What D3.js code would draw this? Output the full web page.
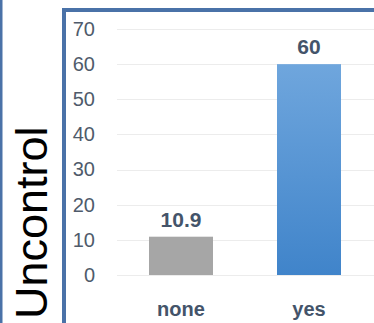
<!DOCTYPE html>
<html><head><meta charset="utf-8">
<script src="https://cdn.jsdelivr.net/npm/d3@7"></script>
<style>html,body{margin:0;padding:0;background:#fff;overflow:hidden}</style>
</head><body>
<script>
const categories = ["none", "yes"];
const values = [10.9, 60];
const valueLabels = ["10.9", "60"];
const yTicks = [0, 10, 20, 30, 40, 50, 60, 70];
const sideTitle = "Uncontrol";

const W = 374, H = 323;
const svg = d3.select("body").append("svg").attr("width", W).attr("height", H);

const defs = svg.append("defs");
const grad = defs.append("linearGradient").attr("id", "blueGrad").attr("x1", 0).attr("y1", 0).attr("x2", 0).attr("y2", 1);
grad.append("stop").attr("offset", "0%").attr("stop-color", "#6fa6dd");
grad.append("stop").attr("offset", "100%").attr("stop-color", "#4084ca");

// left edge line from previous panel
svg.append("rect").attr("x", 0).attr("y", 0).attr("width", 2.5).attr("height", H).attr("fill", "#4a72a8");

// side title
svg.append("text")
  .attr("transform", "translate(47,319) rotate(-90)")
  .attr("font-family", "Liberation Sans, Arial, sans-serif")
  .attr("font-size", 45)
  .attr("fill", "#000")
  .text(sideTitle);

// panel border
svg.append("rect").attr("x", 64).attr("y", 10).attr("width", 340).attr("height", 340)
  .attr("fill", "none").attr("stroke", "#4a72a8").attr("stroke-width", 4);

const y = d3.scaleLinear().domain([0, 70]).range([275, 29]);
const x = d3.scaleBand().domain(categories).range([117, 373]).paddingInner(0.5).paddingOuter(0.25);

// gridlines
svg.append("g").selectAll("line").data(yTicks).join("line")
  .attr("x1", 117).attr("x2", W).attr("y1", d => Math.round(y(d)) + 0.5).attr("y2", d => Math.round(y(d)) + 0.5)
  .attr("stroke", "#ececec").attr("stroke-width", 1);

// y axis labels
const yAxis = d3.axisLeft(y).tickValues(yTicks).tickSize(0).tickPadding(0);
const gy = svg.append("g").attr("transform", "translate(95,0)").call(yAxis);
gy.select(".domain").remove();
gy.selectAll("text")
  .attr("font-family", "Liberation Sans, Arial, sans-serif")
  .attr("font-size", 20)
  .attr("fill", "#4f5b6b");

// bars
const colors = ["#a6a6a6", "url(#blueGrad)"];
svg.append("g").selectAll("rect").data(values).join("rect")
  .attr("x", (d, i) => x(categories[i]))
  .attr("width", x.bandwidth())
  .attr("y", d => y(d))
  .attr("height", d => y(0) - y(d))
  .attr("fill", (d, i) => colors[i]);

// value labels
svg.append("g").selectAll("text").data(values).join("text")
  .attr("x", (d, i) => x(categories[i]) + x.bandwidth() / 2)
  .attr("y", d => y(d) - 10)
  .attr("text-anchor", "middle")
  .attr("font-family", "Liberation Sans, Arial, sans-serif")
  .attr("font-weight", "bold")
  .attr("font-size", 21)
  .attr("fill", "#44546a")
  .text((d, i) => valueLabels[i]);

// category labels
const xAxis = d3.axisBottom(x).tickSize(0).tickPadding(0);
const gx = svg.append("g").attr("transform", "translate(0,302)").call(xAxis);
gx.select(".domain").remove();
gx.selectAll("text")
  .attr("font-family", "Liberation Sans, Arial, sans-serif")
  .attr("font-weight", "bold")
  .attr("font-size", 20)
  .attr("fill", "#44546a");
</script>
</body></html>
